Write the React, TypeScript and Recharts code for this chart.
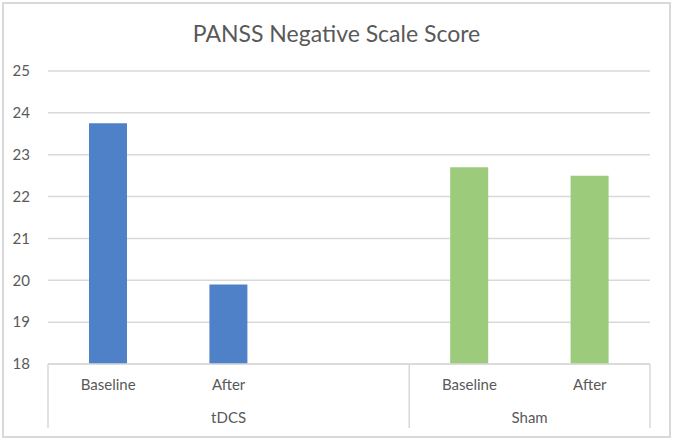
import React from 'react';
import { BarChart, Bar, XAxis, YAxis, CartesianGrid, Cell } from 'recharts';

const categories = ['Baseline', 'After', '', 'Baseline', 'After'];
const groups = ['tDCS', 'tDCS', 'tDCS', 'Sham', 'Sham'];
const scores = [23.75, 19.9, null, 22.7, 22.5];
const yTicks = [18, 19, 20, 21, 22, 23, 24, 25];

const groupColors: Record<string, string> = {
  tDCS: '#4F81C8',
  Sham: '#9BCB7B',
};

const W = 673;
const H = 441;
const MARGIN = { top: 71, right: 23, bottom: 0, left: 0 };
const Y_WIDTH = 48;
const PLOT_W = W - MARGIN.left - MARGIN.right - Y_WIDTH;
const FONT = 'Lato, "Open Sans", sans-serif';
const TEXT = '#595959';
const LINE = '#d9d9d9';

const data = categories.map((name, i) => ({ name, group: groups[i], score: scores[i] }));

const CategoryTick = (props: any) => {
  const { x, y, payload } = props;
  const i = payload.index;
  const band = PLOT_W / categories.length;
  const left = x - band / 2;
  const g = groups[i];
  const isStart = i === 0 || groups[i - 1] !== g;
  const size = groups.filter((v) => v === g).length;
  return (
    <g>
      {categories[i] && (
        <text x={x} y={y + 26} textAnchor="middle" fill={TEXT} fontSize={15} fontFamily={FONT}>
          {categories[i]}
        </text>
      )}
      {isStart && (
        <>
          <line x1={left} y1={y} x2={left} y2={y + 64} stroke={LINE} strokeWidth={1.5} />
          <text x={left + (size * band) / 2} y={y + 59} textAnchor="middle" fill={TEXT} fontSize={15} fontFamily={FONT}>
            {g}
          </text>
        </>
      )}
      {i === categories.length - 1 && (
        <line x1={x + band / 2} y1={y} x2={x + band / 2} y2={y + 64} stroke={LINE} strokeWidth={1.5} />
      )}
    </g>
  );
};

export default function App() {
  return (
    <div style={{ position: 'absolute', left: 0, top: 0, width: W, height: H, background: '#fff' }}>
      <div
        style={{
          position: 'absolute',
          left: 2,
          top: 2,
          width: 669,
          height: 436,
          boxSizing: 'border-box',
          border: `2px solid ${LINE}`,
        }}
      />
      <div
        style={{
          position: 'absolute',
          left: 0,
          top: 18,
          width: W,
          textAlign: 'center',
          fontFamily: FONT,
          fontSize: 23,
          color: TEXT,
          lineHeight: '30px',
        }}
      >
        PANSS Negative Scale Score
      </div>
      <div style={{ position: 'absolute', left: 0, top: 0 }}>
        <BarChart width={W} height={H} data={data} margin={MARGIN}>
          <CartesianGrid vertical={false} stroke={LINE} strokeWidth={1.5} />
          <XAxis
            dataKey="name"
            interval={0}
            height={H - 364 - MARGIN.bottom}
            axisLine={{ stroke: LINE, strokeWidth: 1.5 }}
            tickLine={false}
            tickSize={0}
            tickMargin={0}
            tick={<CategoryTick />}
          />
          <YAxis
            width={Y_WIDTH}
            domain={[18, 25]}
            ticks={yTicks}
            axisLine={false}
            tickLine={false}
            tickSize={0}
            tickMargin={18}
            tick={{ fill: TEXT, fontSize: 15, fontFamily: FONT }}
          />
          <Bar dataKey="score" barSize={38} isAnimationActive={false}>
            {data.map((d, i) => (
              <Cell key={i} fill={groupColors[d.group]} />
            ))}
          </Bar>
        </BarChart>
      </div>
    </div>
  );
}
